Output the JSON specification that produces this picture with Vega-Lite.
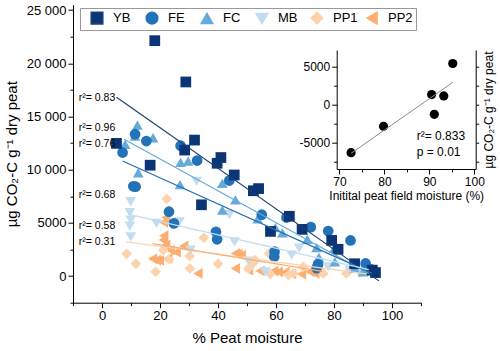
{
  "$schema": "https://vega.github.io/schema/vega-lite/v6.json",
  "width": 348,
  "height": 298,
  "autosize": "none",
  "padding": {"left": 73, "top": 4.7, "right": 79, "bottom": 48.3},
  "background": "white",
  "config": {
    "font": "Liberation Sans",
    "view": {"stroke": null},
    "axis": {"grid": false, "domainColor": "black", "tickColor": "black", "labelColor": "black", "titleColor": "black", "labelFont": "Liberation Sans", "titleFont": "Liberation Sans", "titleFontWeight": "normal", "domainWidth": 1, "tickWidth": 1, "labelOverlap": false}
  },
  "datasets": {
    "pts": [
      {"s":"PP2","x":22,"y":5500},{"s":"PP2","x":21.2,"y":5050},{"s":"PP2","x":21.3,"y":3800},{"s":"PP2","x":21.1,"y":3380},{"s":"PP2","x":22,"y":2910},{"s":"PP2","x":17.4,"y":1620},{"s":"PP2","x":18.7,"y":1500},{"s":"PP2","x":19.8,"y":1470},{"s":"PP2","x":22.7,"y":1660},{"s":"PP2","x":23.5,"y":2440},{"s":"PP2","x":25.6,"y":2250},{"s":"PP2","x":28.2,"y":2830},{"s":"PP2","x":33.1,"y":250},{"s":"PP2","x":46,"y":2130},{"s":"PP2","x":46.9,"y":2070},{"s":"PP2","x":48,"y":1970},{"s":"PP2","x":46,"y":720},{"s":"PP2","x":50.5,"y":560},{"s":"PP2","x":54.5,"y":480},{"s":"PP2","x":59.2,"y":470},{"s":"PP2","x":60.8,"y":400},{"s":"PP2","x":63.1,"y":370},{"s":"PP2","x":65.4,"y":190},{"s":"PP2","x":68.8,"y":190},{"s":"PP2","x":71.7,"y":400},{"s":"PP2","x":73.4,"y":250},
      {"s":"PP1","x":8.5,"y":2090},{"s":"PP1","x":11.7,"y":1150},{"s":"PP1","x":18.5,"y":400},{"s":"PP1","x":21.1,"y":2430},{"s":"PP1","x":22.3,"y":7250},{"s":"PP1","x":23.1,"y":6120},{"s":"PP1","x":23.1,"y":1570},{"s":"PP1","x":30.2,"y":1880},{"s":"PP1","x":30.3,"y":720},{"s":"PP1","x":35.1,"y":3600},{"s":"PP1","x":40,"y":1150},{"s":"PP1","x":50.5,"y":720},{"s":"PP1","x":52.2,"y":1250},{"s":"PP1","x":52.8,"y":1500},{"s":"PP1","x":57.6,"y":2130},{"s":"PP1","x":58,"y":200},{"s":"PP1","x":64.3,"y":94},{"s":"PP1","x":66,"y":250},{"s":"PP1","x":69.4,"y":870},{"s":"PP1","x":76.3,"y":250},{"s":"PP1","x":84.3,"y":250},{"s":"PP1","x":89.4,"y":400},
      {"s":"MB","x":9.9,"y":7000},{"s":"MB","x":9.6,"y":5950},{"s":"MB","x":9.9,"y":5260},{"s":"MB","x":9.6,"y":4700},{"s":"MB","x":9.9,"y":3690},{"s":"MB","x":18.8,"y":4950},{"s":"MB","x":26.7,"y":5100},{"s":"MB","x":30.5,"y":2440},{"s":"MB","x":32.6,"y":8900},{"s":"MB","x":43.9,"y":5770},{"s":"MB","x":45.7,"y":3220},{"s":"MB","x":50.5,"y":1410},{"s":"MB","x":56.3,"y":400},{"s":"MB","x":65.4,"y":1970},{"s":"MB","x":68,"y":2630},{"s":"MB","x":78,"y":870},{"s":"MB","x":80.8,"y":2130},{"s":"MB","x":85.4,"y":560},{"s":"MB","x":88.8,"y":250},
      {"s":"FC","x":8,"y":12380},{"s":"FC","x":12.2,"y":14190},{"s":"FC","x":11.4,"y":13160},{"s":"FC","x":17.6,"y":13000},{"s":"FC","x":12.5,"y":9710},{"s":"FC","x":27.1,"y":10690},{"s":"FC","x":29.7,"y":10810},{"s":"FC","x":26.9,"y":8600},{"s":"FC","x":41.5,"y":8710},{"s":"FC","x":46,"y":7170},{"s":"FC","x":41.5,"y":6200},{"s":"FC","x":53.7,"y":5380},{"s":"FC","x":59.8,"y":4550},{"s":"FC","x":62.2,"y":4070},{"s":"FC","x":70.8,"y":3460},{"s":"FC","x":74,"y":2680},{"s":"FC","x":80.1,"y":2600},{"s":"FC","x":74.8,"y":1760},{"s":"FC","x":80.3,"y":1340},{"s":"FC","x":87.1,"y":720},{"s":"FC","x":90,"y":400},
      {"s":"FE","x":7.1,"y":11610},{"s":"FE","x":10.8,"y":8440},{"s":"FE","x":11.6,"y":8400},{"s":"FE","x":11.4,"y":13330},{"s":"FE","x":15.3,"y":12690},{"s":"FE","x":23.1,"y":6050},{"s":"FE","x":24.8,"y":4950},{"s":"FE","x":27.1,"y":12250},{"s":"FE","x":32.8,"y":10860},{"s":"FE","x":39.3,"y":4160},{"s":"FE","x":39.7,"y":3460},{"s":"FE","x":43.9,"y":8980},{"s":"FE","x":55.1,"y":5770},{"s":"FE","x":63.6,"y":5500},{"s":"FE","x":59.5,"y":2290},{"s":"FE","x":59.4,"y":1810},{"s":"FE","x":72,"y":4600},{"s":"FE","x":78,"y":4230},{"s":"FE","x":85.7,"y":3350},{"s":"FE","x":74.5,"y":1100},{"s":"FE","x":74,"y":750},{"s":"FE","x":90.9,"y":1190},{"s":"FE","x":92.8,"y":630},
      {"s":"YB","x":5,"y":12470},{"s":"YB","x":16.6,"y":10420},{"s":"YB","x":18.2,"y":22120},{"s":"YB","x":28.9,"y":18240},{"s":"YB","x":28.5,"y":11840},{"s":"YB","x":31.9,"y":12780},{"s":"YB","x":34.3,"y":6700},{"s":"YB","x":39.7,"y":10600},{"s":"YB","x":41,"y":11140},{"s":"YB","x":45.6,"y":9500},{"s":"YB","x":52.2,"y":8020},{"s":"YB","x":54,"y":8220},{"s":"YB","x":58.1,"y":4200},{"s":"YB","x":64.6,"y":5620},{"s":"YB","x":69,"y":4390},{"s":"YB","x":79.2,"y":3350},{"s":"YB","x":81.4,"y":2520},{"s":"YB","x":87.1,"y":1160},{"s":"YB","x":93.2,"y":560},{"s":"YB","x":94.3,"y":330}
    ],
    "lines": [
      {"s":"YB","x":5,"y":16800},{"s":"YB","x":95.5,"y":-450},
      {"s":"FC","x":7.6,"y":12850},{"s":"FC","x":92,"y":250},
      {"s":"FE","x":7.1,"y":10810},{"s":"FE","x":93,"y":280},
      {"s":"MB","x":9,"y":5830},{"s":"MB","x":92,"y":600},
      {"s":"PP1","x":8.4,"y":3220},{"s":"PP1","x":91,"y":200},
      {"s":"PP2","x":17.4,"y":3050},{"s":"PP2","x":76,"y":450}
    ],
    "r2": [
      {"x":-8,"y":16760,"t":"r²= 0.83"},
      {"x":-8,"y":13880,"t":"r²= 0.96"},
      {"x":-8,"y":12400,"t":"r²= 0.76"},
      {"x":-8,"y":7610,"t":"r²= 0.68"},
      {"x":-8,"y":4730,"t":"r²= 0.58"},
      {"x":-8,"y":3220,"t":"r²= 0.31"}
    ],
    "inset": [
      {"x":72.6,"y":-6350},{"x":79.8,"y":-2870},{"x":90.5,"y":1320},{"x":91.1,"y":-1280},{"x":93.2,"y":1140},{"x":95.2,"y":5420}
    ],
    "insetLine": [
      {"x":72.6,"y":-6430},{"x":95.2,"y":2930}
    ],
    "insetText": [
      {"x":87.2,"y":-4190,"t":"r²= 0.833"},
      {"x":87.2,"y":-6270,"t":"p = 0.01"}
    ]
  },
  "layer": [
    {
      "layer": [
        {
          "data": {"name": "pts"},
          "mark": {"type": "point", "filled": true, "opacity": 1, "size": 115},
          "encoding": {
            "x": {"field": "x", "type": "quantitative", "scale": {"domain": [-10, 110], "nice": false, "zero": false},
              "axis": {"orient": "bottom", "title": "% Peat moisture", "titleFontSize": 15, "titlePadding": 8, "labelFontSize": 13, "labelPadding": 2, "labelFlush": false, "labelOverlap": false, "tickCount": 40,
                "values": [-10,0,10,20,30,40,50,60,70,80,90,100,110],
                "labelExpr": "datum.value % 20 === 0 && datum.value >= 0 && datum.value <= 100 ? datum.label : ''",
                "tickSize": {"condition": {"test": "datum.value % 20 !== 0", "value": 3}, "value": 5}}},
            "y": {"field": "y", "type": "quantitative", "scale": {"domain": [-2500, 25500], "nice": false, "zero": false},
              "axis": {"orient": "left", "title": "µg CO₂-C g⁻¹ dry peat", "titleFontSize": 15, "titlePadding": 7, "labelFontSize": 13, "labelPadding": 2, "labelFlush": false, "labelOverlap": false, "tickCount": 40,
                "values": [-2500,0,2500,5000,7500,10000,12500,15000,17500,20000,22500,25000],
                "labelExpr": "datum.value % 5000 !== 0 ? '' : (datum.value >= 10000 ? floor(datum.value/1000) + ' 000' : '' + datum.value)",
                "tickSize": {"condition": {"test": "datum.value % 5000 !== 0", "value": 3}, "value": 5}}},
            "color": {"field": "s", "type": "nominal",
              "scale": {"domain": ["YB","FE","FC","MB","PP1","PP2"], "range": ["#0b3574","#2272b8","#66aada","#c2dcf0","#fdd3ae","#fcae72"]},
              "legend": {"orient": "none", "legendX": 7, "legendY": 3.3, "direction": "horizontal", "columns": 6, "title": null, "strokeColor": "#999", "fillColor": "white", "padding": 3, "labelFontSize": 13, "labelFont": "Liberation Sans", "symbolSize": 135, "labelOffset": 9, "columnPadding": 0, "gridAlign": "all", "symbolOffset": 7}},
            "shape": {"field": "s", "type": "nominal",
              "scale": {"domain": ["YB","FE","FC","MB","PP1","PP2"], "range": ["square","circle","triangle-up","triangle-down","diamond","triangle-left"]},
              "legend": {"orient": "none", "legendX": 7, "legendY": 3.3, "direction": "horizontal", "columns": 6, "title": null, "strokeColor": "#999", "fillColor": "white", "padding": 3, "labelFontSize": 13, "labelFont": "Liberation Sans", "symbolSize": 135, "labelOffset": 9, "columnPadding": 0, "gridAlign": "all", "symbolOffset": 7}}
          }
        },
        {
          "data": {"name": "lines"},
          "mark": {"type": "line", "strokeWidth": 1.2},
          "encoding": {
            "x": {"field": "x", "type": "quantitative", "scale": {"domain": [-10, 110], "nice": false, "zero": false}},
            "y": {"field": "y", "type": "quantitative", "scale": {"domain": [-2500, 25500], "nice": false, "zero": false}},
            "stroke": {"field": "s", "type": "nominal", "legend": null,
              "scale": {"domain": ["YB","FE","FC","MB","PP1","PP2"], "range": ["#1b3f78","#2272b8","#66aada","#c2dcf0","#fdd3ae","#fcae72"]}}
          }
        },
        {
          "data": {"name": "r2"},
          "mark": {"type": "text", "align": "left", "baseline": "middle", "fontSize": 10.5, "font": "Liberation Sans", "color": "black"},
          "encoding": {
            "x": {"field": "x", "type": "quantitative", "scale": {"domain": [-10, 110], "nice": false, "zero": false}},
            "y": {"field": "y", "type": "quantitative", "scale": {"domain": [-2500, 25500], "nice": false, "zero": false}},
            "text": {"field": "t"}
          }
        }
      ]
    },
    {
      "layer": [
        {
          "data": {"name": "inset"},
          "mark": {"type": "point", "filled": true, "opacity": 1, "size": 85, "color": "black"},
          "encoding": {
            "x": {"field": "x", "type": "quantitative", "scale": {"domain": [69.4, 100.3], "range": [263.7, 402.7], "nice": false, "zero": false},
              "axis": {"orient": "bottom", "offset": -133.7, "title": "Initital peat field moisture (%)", "titleFontSize": 12, "titlePadding": 3, "labelFontSize": 12, "labelPadding": 2, "labelOverlap": false, "tickCount": 40,
                "values": [70,75,80,85,90,95,100],
                "labelExpr": "datum.value % 10 === 0 ? datum.label : ''",
                "tickSize": {"condition": {"test": "datum.value % 10 !== 0", "value": 3}, "value": 5}}},
            "y": {"field": "y", "type": "quantitative", "scale": {"domain": [-8500, 7200], "range": [164.3, 45.3], "nice": false, "zero": false},
              "axis": {"orient": "left", "offset": -263.7, "title": null, "labelFontSize": 12, "labelPadding": 2, "labelOverlap": false, "tickCount": 40,
                "values": [-7500,-5000,-2500,0,2500,5000],
                "labelExpr": "datum.value % 5000 !== 0 ? '' : (datum.value < 0 ? '-' + (-datum.value) : '' + datum.value)",
                "tickSize": {"condition": {"test": "datum.value % 5000 !== 0", "value": 3}, "value": 5}}}
          }
        },
        {
          "data": {"name": "insetLine"},
          "mark": {"type": "line", "color": "#8a8a8a", "strokeWidth": 1},
          "encoding": {
            "x": {"field": "x", "type": "quantitative", "scale": {"domain": [69.4, 100.3], "range": [263.7, 402.7], "nice": false, "zero": false}},
            "y": {"field": "y", "type": "quantitative", "scale": {"domain": [-8500, 7200], "range": [164.3, 45.3], "nice": false, "zero": false}}
          }
        },
        {
          "data": {"name": "insetText"},
          "mark": {"type": "text", "align": "left", "baseline": "middle", "fontSize": 12, "font": "Liberation Sans", "color": "black"},
          "encoding": {
            "x": {"field": "x", "type": "quantitative", "scale": {"domain": [69.4, 100.3], "range": [263.7, 402.7], "nice": false, "zero": false}},
            "y": {"field": "y", "type": "quantitative", "scale": {"domain": [-8500, 7200], "range": [164.3, 45.3], "nice": false, "zero": false}},
            "text": {"field": "t"}
          }
        }
      ]
    },
    {
      "data": {"name": "inset"},
      "mark": {"type": "point", "opacity": 0},
      "encoding": {
        "x": {"field": "x", "type": "quantitative", "scale": {"domain": [69.4, 100.3], "range": [263.7, 402.7], "nice": false, "zero": false}, "axis": null},
        "y": {"field": "y", "type": "quantitative", "scale": {"domain": [-8500, 7200], "range": [164.3, 45.3], "nice": false, "zero": false},
          "axis": {"orient": "right", "offset": 54.7, "labels": false, "title": "µg CO₂-C g⁻¹ dry peat", "titleAngle": 270, "titleBaseline": "top", "titleFontSize": 12, "titlePadding": 4, "tickCount": 40,
            "values": [-7500,-5000,-2500,0,2500,5000], "tickSize": 3}}
      }
    }
  ],
  "resolve": {
    "scale": {"x": "independent", "y": "independent"},
    "axis": {"x": "independent", "y": "independent"}
  }
}
